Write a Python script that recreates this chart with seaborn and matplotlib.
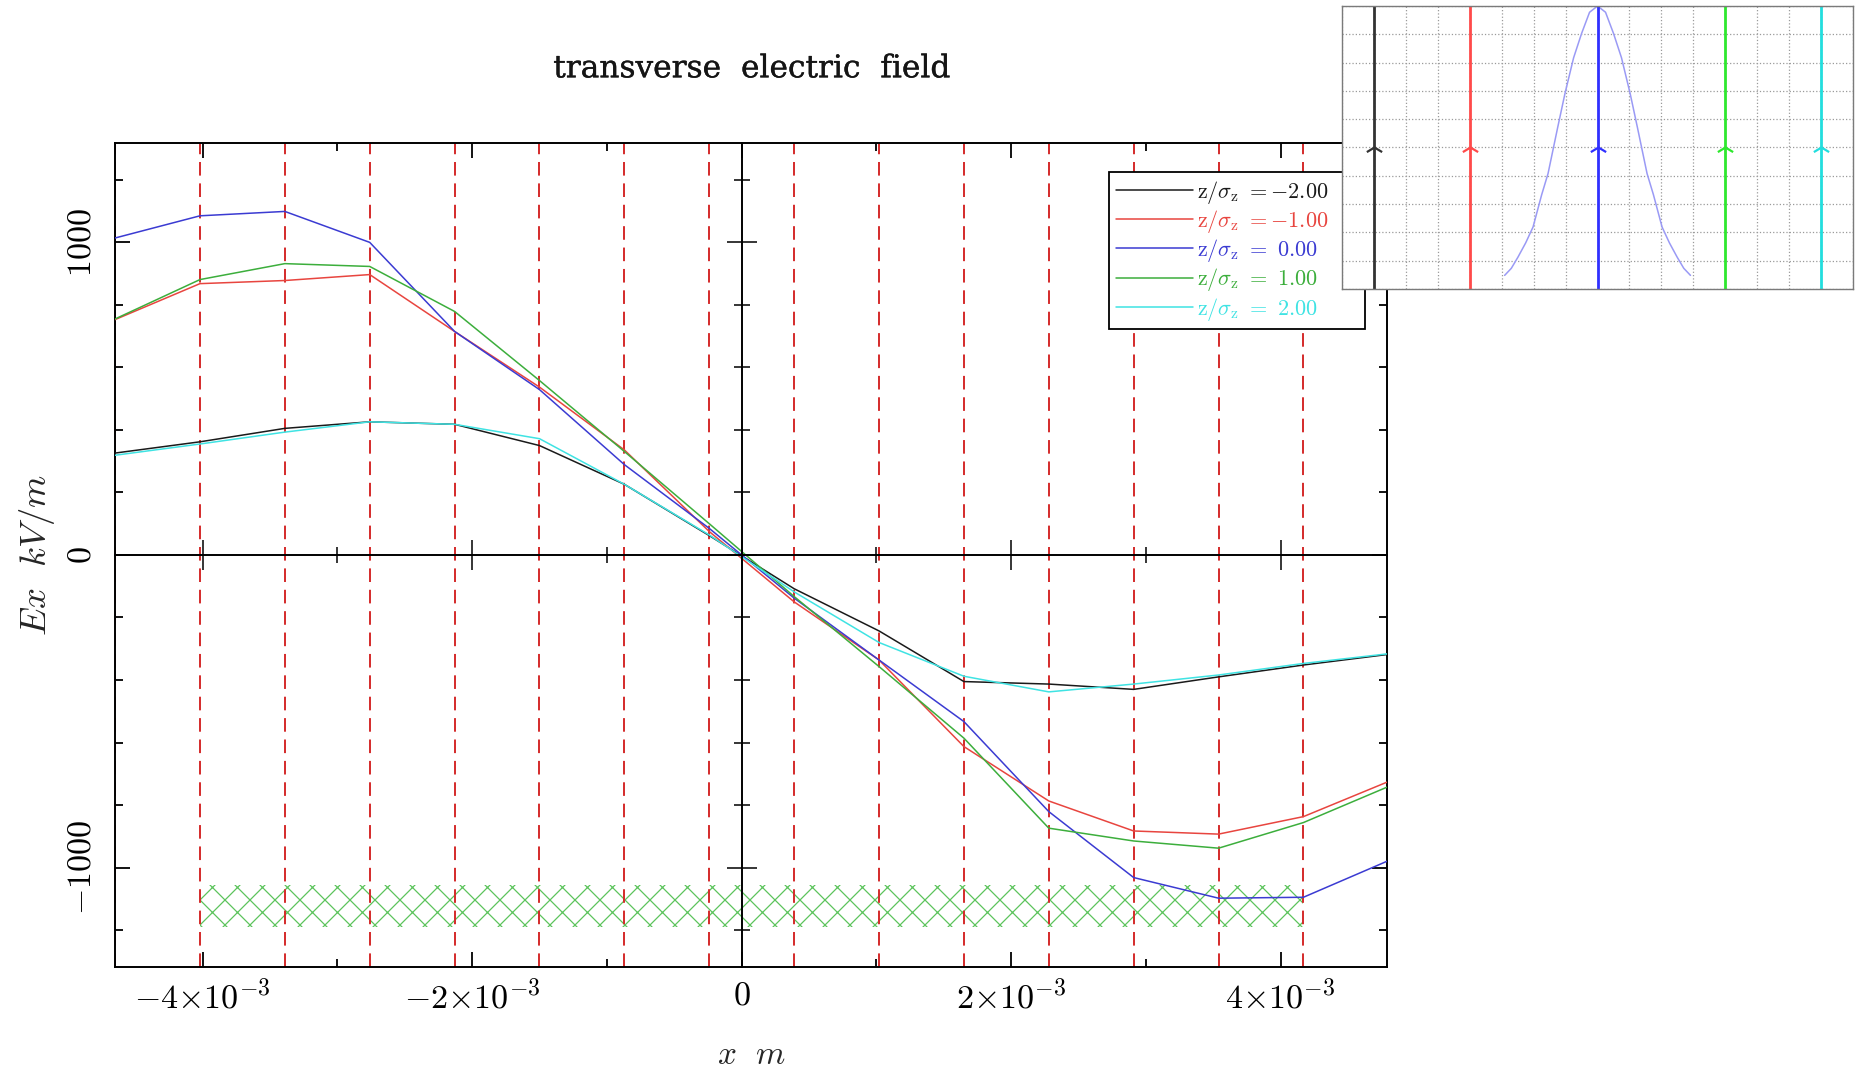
import numpy as np
import pandas as pd
import matplotlib
matplotlib.use("Agg")
import matplotlib.pyplot as plt
import matplotlib.patheffects as pe
import seaborn as sns
from matplotlib.ticker import FixedLocator, MultipleLocator

# ---------------- data ----------------
x_grid_mm = [-4.65, -4.02, -3.39, -2.76, -2.13, -1.50, -0.87, -0.24,
             0.39, 1.02, 1.65, 2.28, 2.91, 3.54, 4.17, 4.80]   # units of 1e-3 m

ex_zm2 = [326, 362, 405, 426, 418, 350, 226, 62, -108, -243, -405, -413, -430, -390, -352, -318]
ex_zm1 = [753, 868, 878, 897, 715, 537, 336, 75, -150, -336, -613, -787, -883, -893, -837, -725]
ex_z0 = [1014, 1085, 1099, 1000, 715, 529, 289, 85, -138, -336, -533, -821, -1032, -1098, -1095, -978]
ex_zp1 = [755, 881, 932, 923, 779, 558, 331, 100, -133, -357, -586, -874, -915, -938, -856, -741]
ex_zp2 = [319, 355, 393, 426, 418, 372, 226, 64, -118, -280, -388, -438, -413, -384, -347, -316]

series_keys = ["m2", "m1", "0", "p1", "p2"]
legend_labels = [r"$\mathrm{z/}\sigma_\mathrm{z}\ {=}{-}2.00$",
                 r"$\mathrm{z/}\sigma_\mathrm{z}\ {=}{-}1.00$",
                 r"$\mathrm{z/}\sigma_\mathrm{z}\ {=}\ 0.00$",
                 r"$\mathrm{z/}\sigma_\mathrm{z}\ {=}\ 1.00$",
                 r"$\mathrm{z/}\sigma_\mathrm{z}\ {=}\ 2.00$"]
series_colors = ["#1a1a1a", "#e8453f", "#3b3bd2", "#3cae3c", "#3fe3e3"]

band_x = [-4.02, 4.17]        # 1e-3 m
band_y = [-1190, -1055]       # kV/m

x_tick_values = [-4e-3, -2e-3, 0.0, 2e-3, 4e-3]
x_tick_labels = [r"$-4{\times}10^{-3}$", r"$-2{\times}10^{-3}$", r"$0$",
                 r"$2{\times}10^{-3}$", r"$4{\times}10^{-3}$"]
y_tick_values = [-1000, 0, 1000]
y_tick_labels = [r"$-1000$", r"$0$", r"$1000$"]

# inset (schematic of bunch slices)
inset_line_x = [1, 4, 8, 12, 15]
inset_line_colors = ["#333333", "#ff4a4a", "#3030ff", "#2ee82e", "#22dede"]
gauss_x = [5.09, 5.30, 5.51, 5.75, 5.98, 6.25, 6.45, 6.75, 6.98, 7.25, 7.50, 7.75, 8.0,
           8.25, 8.50, 8.75, 9.02, 9.25, 9.55, 9.75, 10.02, 10.25, 10.49, 10.70, 10.91]
gauss_y = [0.48, 0.73, 1.13, 1.63, 2.19, 3.33, 4.08, 5.70, 6.91, 8.17, 9.03, 9.78, 10.0,
           9.78, 9.03, 8.17, 6.91, 5.70, 4.08, 3.33, 2.19, 1.63, 1.13, 0.73, 0.48]

# ---------------- style ----------------
DPI = 75
K = 100.0 / DPI          # sizes below are written for 100 dpi and scaled


def s(v):
    return v * K


sns.set_style("ticks")
plt.rcParams["font.family"] = ["DejaVu Serif"]
plt.rcParams["mathtext.fontset"] = "cm"
plt.rcParams["hatch.linewidth"] = s(0.9)

fig = plt.figure(figsize=(1856 / DPI, 1075 / DPI), dpi=DPI)
ax_pos = [0.062, 0.1005, 0.6853, 0.7665]
ax = fig.add_axes(ax_pos)

rows = []
for key, vals in zip(series_keys, [ex_zm2, ex_zm1, ex_z0, ex_zp1, ex_zp2]):
    for xv, yv in zip(x_grid_mm, vals):
        rows.append({"x": xv * 1e-3, "Ex": yv, "series": key})
df = pd.DataFrame(rows)

sns.lineplot(data=df, x="x", y="Ex", hue="series", hue_order=series_keys,
             palette=series_colors, estimator=None, sort=False, linewidth=s(1.1),
             legend=False, ax=ax, zorder=3)
curve_lines = list(ax.lines)[:5]

# red dashed lines at the slice positions
ax.vlines(np.array(x_grid_mm) * 1e-3, -1318, 1318, colors="#d42a2a",
          linestyles=(0, (7, 4)), linewidth=s(1.4), zorder=2)

# hatched band
ax.fill_between(np.array(band_x) * 1e-3, band_y[0], band_y[1], facecolor="none",
                edgecolor="#5cc45c", hatch="x", linewidth=0, zorder=1)

ax.set_xlim(-4.65e-3, 4.79e-3)
ax.set_ylim(-1318, 1318)

ax.xaxis.set_major_locator(FixedLocator(x_tick_values))
ax.set_xticklabels(x_tick_labels)
ax.xaxis.set_minor_locator(MultipleLocator(1e-3))
ax.yaxis.set_major_locator(FixedLocator(y_tick_values))
ax.set_yticklabels(y_tick_labels, rotation=90, va="center")
ax.yaxis.set_minor_locator(MultipleLocator(200))
ax.tick_params(which="both", direction="in", top=True, right=True, width=s(1.3),
               colors="black", labelsize=s(24.5))
ax.tick_params(which="major", length=s(11))
ax.tick_params(which="minor", length=s(5.5))
ax.tick_params(axis="x", pad=s(9))
ax.tick_params(axis="y", pad=s(13))
for sp in ax.spines.values():
    sp.set_color("black")
    sp.set_linewidth(s(1.4))

ax.set_xlabel(r"$x\ \ m$", fontsize=s(24), labelpad=s(18))
ax.set_ylabel(r"$Ex\ \ kV/m$", fontsize=s(26.5), labelpad=s(6))

# axes through the origin with crossing ticks
ax0 = fig.add_axes(ax_pos, sharex=ax, sharey=ax)
ax0.set_facecolor("none")
ax0.spines["top"].set_visible(False)
ax0.spines["right"].set_visible(False)
ax0.spines["left"].set_position(("data", 0))
ax0.spines["bottom"].set_position(("data", 0))
for sname in ("left", "bottom"):
    ax0.spines[sname].set_color("black")
    ax0.spines[sname].set_linewidth(s(1.4))
ax0.tick_params(which="both", direction="inout", width=s(1.3), labelleft=False,
                labelbottom=False, top=False, right=False)
ax0.tick_params(which="major", length=s(22))
ax0.tick_params(which="minor", length=s(11))
ax0.set_xlabel("")
ax0.set_ylabel("")

# legend (box spans a fixed width, as in the reference)
leg = ax.legend(handles=curve_lines, labels=legend_labels, loc="upper left",
                bbox_to_anchor=(0.7814, 0.3, 0.2013, 0.6648), mode="expand",
                fontsize=s(16), frameon=True, fancybox=False, framealpha=1,
                edgecolor="black", handlelength=3.5, handletextpad=0.15,
                labelspacing=0.1, borderpad=0.3, borderaxespad=0)
leg.get_frame().set_linewidth(s(1.3))
for txt, c in zip(leg.get_texts(), series_colors):
    txt.set_color(c)
leg.set_zorder(10)

fig.text(ax_pos[0] + ax_pos[2] / 2, 0.936, "transverse  electric  field",
         ha="center", va="center", fontsize=s(22.5), color="#151515",
         path_effects=[pe.withStroke(linewidth=s(0.25), foreground="#151515")])

# inset
axin = fig.add_axes([0.7231, 0.7312, 0.2753, 0.2632])
axin.set_facecolor("white")
axin.set_xlim(0, 16)
axin.set_ylim(0, 10)
axin.set_xticks(range(0, 17))
axin.set_yticks(range(0, 11))
axin.grid(True, linestyle=":", color="#9a9a9a", linewidth=s(0.9))
axin.tick_params(length=0, labelbottom=False, labelleft=False)
for sp in axin.spines.values():
    sp.set_color("#7a7a7a")
    sp.set_linewidth(s(1.0))
sns.lineplot(x=gauss_x, y=gauss_y, color="#9a9af5", linewidth=s(1.1), ax=axin,
             estimator=None, sort=False)
axin.vlines(inset_line_x, 0, 10, colors=inset_line_colors, linewidth=s(2.0))
chevron = [(-1, -0.6), (0, 0), (1, -0.6)]
for xv, c in zip(inset_line_x, inset_line_colors):
    axin.plot([xv], [5], marker=chevron, markersize=s(11), markerfacecolor="none",
              markeredgecolor=c, markeredgewidth=s(1.6), linestyle="none")

fig.savefig("out.png", dpi=DPI)
